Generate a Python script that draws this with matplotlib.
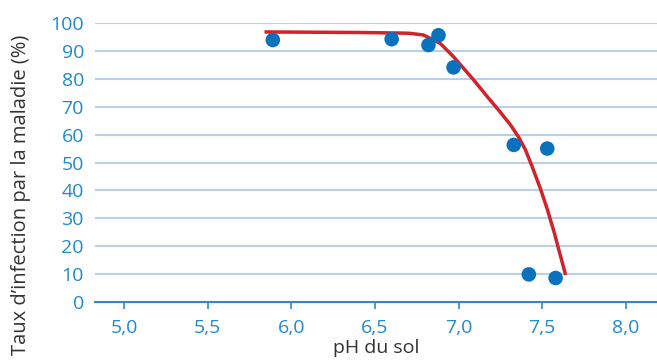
import matplotlib.pyplot as plt

plt.rcParams['font.family'] = ['Open Sans', 'DejaVu Sans']

# mesures
ph = [5.89, 6.60, 6.82, 6.88, 6.97, 7.33, 7.53, 7.42, 7.58]
taux = [93.9, 94.2, 92.1, 95.6, 84.1, 56.3, 55.0, 9.9, 8.6]

# courbe de tendance
ph_courbe = [5.84, 6.40, 6.65, 6.71, 6.79, 6.89, 6.97, 7.09, 7.18, 7.25, 7.31, 7.36, 7.40, 7.44, 7.49,
             7.53, 7.57, 7.60, 7.64]
taux_courbe = [96.8, 96.6, 96.4, 96.3, 95.7, 92.7, 87.9, 79.6, 73.0, 68.0, 63.5, 59.0, 54.5, 48.5, 40.5,
               33.3, 25.3, 18.5, 9.7]

xticks = [5.0, 5.5, 6.0, 6.5, 7.0, 7.5, 8.0]
xticklabels = ["5,0", "5,5", "6,0", "6,5", "7,0", "7,5", "8,0"]
yticks = list(range(0, 101, 10))

blue_txt = "#1f8ad0"
grid_col = "#b9d0e8"

fig = plt.figure(figsize=(6.57, 3.63), dpi=100)
ax = fig.add_axes([95 / 657, 1 - 302 / 363, 1 - 95 / 657, 279 / 363])

for y in yticks[1:]:
    ax.axhline(y, color=grid_col, lw=1.5, zorder=1)

ax.plot(ph_courbe, taux_courbe, color="#d0232a", lw=2.5, zorder=2,
        solid_capstyle="butt", solid_joinstyle="round")
ax.scatter(ph, taux, s=110, color="#0a72bd", zorder=3, edgecolors="none", clip_on=False)

ax.set_xlim(4.827, 8.186)
ax.set_ylim(0, 100)
ax.set_xticks(xticks)
ax.set_xticklabels(xticklabels)
ax.set_yticks(yticks)

for s in ["top", "right", "left"]:
    ax.spines[s].set_visible(False)
ax.spines["bottom"].set_color("#2a8ad0")
ax.spines["bottom"].set_linewidth(1.5)

ax.tick_params(axis="x", colors="#2a8ad0", length=5, width=1.2, pad=7, labelsize=14, labelcolor=blue_txt)
ax.tick_params(axis="y", length=0, pad=8, labelsize=14, labelcolor=blue_txt)

ax.set_xlabel("pH du sol", fontsize=14, color="#333333", labelpad=2)
fig.text(21 / 657, 1 - 195 / 363, "Taux d\u2019infection par la maladie (%)", rotation=90,
         fontsize=14.5, color="#333333", ha="center", va="center")

fig.savefig("out.png", dpi=100)
